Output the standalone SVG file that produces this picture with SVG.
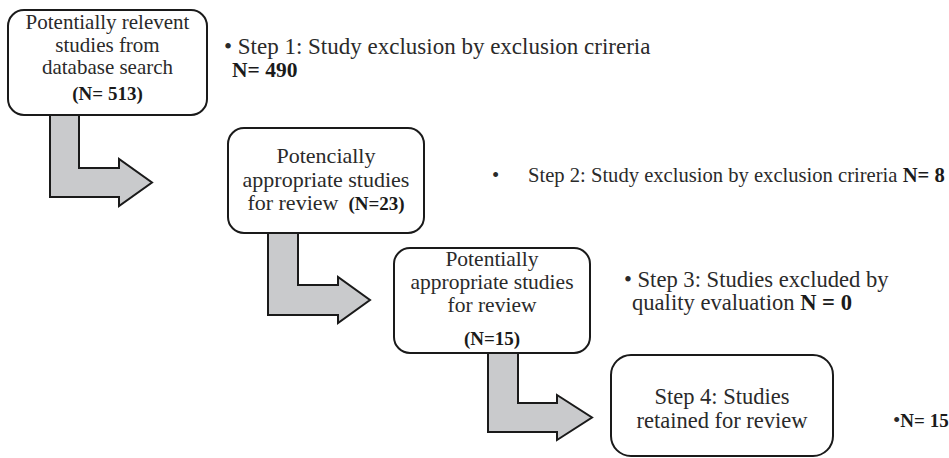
<svg xmlns="http://www.w3.org/2000/svg" width="949" height="458" viewBox="0 0 949 458">
<style>
.box{fill:#fff;stroke:#1a1a1a;stroke-width:2}
.arr{fill:#c9cacc;stroke:#1a1a1a;stroke-width:2;stroke-linejoin:miter}
text{font-family:"Liberation Serif","Times New Roman",serif;fill:#2a2a2a}
.c{text-anchor:middle}
.b{font-weight:bold;fill:#1a1a1a}
</style>
<rect width="949" height="458" fill="#fff"/>
<g id="connectors">
<polygon class="arr" points="50,115 79,115 79,168 119,168 119,159 152,182.5 119,206 119,197 50,197"/>
<polygon class="arr" points="268,233 298,233 298,285 338,285 338,277 370,300 338,323 338,315 268,315"/>
<polygon class="arr" points="488,353 518,353 518,403 557,403 557,395 592,417.5 557,440 557,432 488,432"/>
</g>
<g id="node1">
<rect class="box" x="8" y="10" width="199" height="105" rx="16"/>
<text class="c" x="107.5" y="29" font-size="21">Potentially relevent</text>
<text class="c" x="107.5" y="52" font-size="21">studies from</text>
<text class="c" x="107.5" y="74" font-size="21">database search</text>
<text class="c b" x="107.5" y="100" font-size="19">(N= 513)</text>
</g>
<g id="node2">
<rect class="box" x="228" y="128" width="196" height="105" rx="16"/>
<text class="c" x="326" y="163" font-size="22">Potencially</text>
<text class="c" x="326" y="187" font-size="22">appropriate studies</text>
<text class="c" x="326" y="210" font-size="22">for review<tspan class="b" dx="10" font-size="19">(N=23)</tspan></text>
</g>
<g id="node3">
<rect class="box" x="394" y="248" width="196" height="105" rx="16"/>
<text class="c" x="492" y="266" font-size="21.5">Potentially</text>
<text class="c" x="492" y="289" font-size="21.5">appropriate studies</text>
<text class="c" x="492" y="312" font-size="21.5">for review</text>
<text class="c b" x="492" y="345" font-size="19">(N=15)</text>
</g>
<g id="node4">
<rect class="box" x="611" y="355" width="222" height="101" rx="20"/>
<text class="c" x="722" y="404" font-size="22.5">Step 4: Studies</text>
<text class="c" x="722" y="428" font-size="22.5">retained for review</text>
</g>
<g id="step1">
<text x="224" y="54" font-size="23">• Step 1: Study exclusion by exclusion crireria</text>
<text class="b" x="232" y="77" font-size="21.5">N= 490</text>
</g>
<g id="step2">
<text x="492" y="182" font-size="20.6">•</text>
<text x="528" y="182" font-size="20.6">Step 2: Study exclusion by exclusion crireria <tspan class="b">N= 8</tspan></text>
</g>
<g id="step3">
<text x="624" y="287" font-size="22.6">• Step 3: Studies excluded by</text>
<text x="632" y="310" font-size="22.6">quality evaluation <tspan class="b">N = 0</tspan></text>
</g>
<g id="step4">
<text x="893" y="427" font-size="21">•<tspan class="b" font-size="19">N= 15</tspan></text>
</g>
</svg>
